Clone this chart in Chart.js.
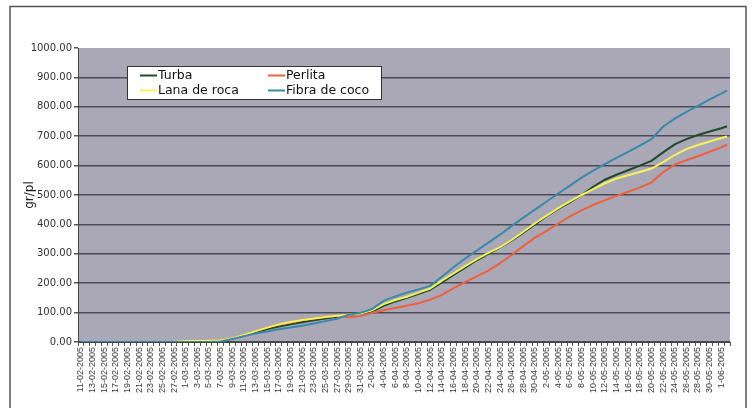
<!DOCTYPE html>
<html>
<head>
<meta charset="utf-8">
<script src="https://cdn.jsdelivr.net/npm/chart.js@4/dist/chart.umd.min.js"></script>
<style>
  html, body { margin: 0; padding: 0; background: #ffffff; }
  #wrap { position: relative; width: 754px; height: 408px; }
</style>
</head>
<body>
<div id="wrap"><canvas id="c" width="754" height="408"></canvas></div>
<script>
// Sampling dates (every second day, plus the final reading)
const sampleDates = [
  '11-02-2005','13-02-2005','15-02-2005','17-02-2005','19-02-2005','21-02-2005','23-02-2005','25-02-2005','27-02-2005',
  '1-03-2005','3-03-2005','5-03-2005','7-03-2005','9-03-2005','11-03-2005','13-03-2005','15-03-2005','17-03-2005',
  '19-03-2005','21-03-2005','23-03-2005','25-03-2005','27-03-2005','29-03-2005','31-03-2005',
  '2-04-2005','4-04-2005','6-04-2005','8-04-2005','10-04-2005','12-04-2005','14-04-2005','16-04-2005','18-04-2005',
  '20-04-2005','22-04-2005','24-04-2005','26-04-2005','28-04-2005','30-04-2005',
  '2-05-2005','4-05-2005','6-05-2005','8-05-2005','10-05-2005','12-05-2005','14-05-2005','16-05-2005','18-05-2005',
  '20-05-2005','22-05-2005','24-05-2005','26-05-2005','28-05-2005','30-05-2005','1-06-2005','2-06-2005'
];

// Accumulated values, gr/pl
const turba = [
  0,0,0,0,0,0,0,0,0,
  0,0,1,4,12,22,33,44,53,
  60,67,74,80,86,92,97,
  104,123,138,150,164,177,203,228,253,
  278,300,322,345,372,400,
  428,453,475,500,528,552,569,584,600,
  616,645,672,690,704,716,727,734
];
const perlita = [
  0,0,0,0,0,0,0,0,1,
  3,4,4,6,13,23,37,49,59,
  67,75,80,85,89,84,88,
  99,108,116,123,132,144,160,183,204,
  223,243,268,296,326,355,
  378,403,427,448,466,482,497,511,525,
  543,577,603,618,632,647,662,671
];
const lanaDeRoca = [
  0,0,0,0,0,0,0,0,1,
  3,4,4,6,13,24,37,49,60,
  68,75,80,85,89,93,97,
  108,129,143,154,168,182,209,233,258,
  282,303,323,347,375,404,
  430,455,478,500,520,540,556,567,578,
  590,612,636,656,670,682,694,699
];
const fibraDeCoco = [
  0,0,0,0,0,0,0,0,0,
  0,0,0,2,10,20,29,36,43,
  49,55,63,71,79,93,99,
  112,140,155,168,179,191,222,254,284,
  311,338,365,395,423,450,
  478,505,532,559,583,605,626,647,668,
  690,732,760,783,803,825,845,856
];

const seriesNames = ['Turba', 'Perlita', 'Lana de roca', 'Fibra de coco'];
const seriesColors = ['#1f4a2b', '#ee6040', '#f4f25a', '#3a88aa'];

// Daily category axis from 11-02-2005 to 2-06-2005
const days = [];
for (let i = 0; i < 112; i++) {
  const d = new Date(Date.UTC(2005, 1, 11 + i));
  days.push(d.getUTCDate() + '-' + String(d.getUTCMonth() + 1).padStart(2, '0') + '-' + d.getUTCFullYear());
}

const toPoints = vals => sampleDates.map((d, i) => ({ x: d, y: vals[i] }));

// Grey plot background and outer frame
const frame = {
  id: 'frame',
  beforeDraw(chart) {
    const { ctx, chartArea: a } = chart;
    ctx.save();
    ctx.fillStyle = '#aaa8b6';
    ctx.fillRect(a.left, a.top, a.right - a.left, a.bottom - a.top);
    ctx.strokeStyle = '#555555';
    ctx.lineWidth = 1.5;
    ctx.strokeRect(10, 6.5, 736, 410);
    ctx.restore();
  }
};

// Boxed two-column legend inside the plot
const boxLegend = {
  id: 'boxLegend',
  afterDatasetsDraw(chart) {
    const { ctx } = chart;
    const bx = 127.5, by = 66.5, bw = 254, bh = 33;
    ctx.save();
    ctx.fillStyle = '#ffffff';
    ctx.fillRect(bx, by, bw, bh);
    ctx.strokeStyle = '#333333';
    ctx.lineWidth = 1;
    ctx.strokeRect(bx, by, bw, bh);
    ctx.font = '12.5px "DejaVu Sans"';
    ctx.textBaseline = 'middle';
    ctx.fillStyle = '#111111';
    seriesNames.forEach((name, i) => {
      const col = i % 2, row = Math.floor(i / 2);
      const lx = col === 0 ? 140 : 268;
      const ly = row === 0 ? 75.5 : 90.5;
      ctx.strokeStyle = seriesColors[i];
      ctx.lineWidth = 2;
      ctx.beginPath();
      ctx.moveTo(lx, ly);
      ctx.lineTo(lx + 17, ly);
      ctx.stroke();
      ctx.fillText(name, lx + 18, ly);
    });
    ctx.restore();
  }
};

const allValues = [turba, perlita, lanaDeRoca, fibraDeCoco];

new Chart(document.getElementById('c'), {
  type: 'line',
  data: {
    labels: days,
    datasets: seriesNames.map((name, i) => ({
      label: name,
      data: toPoints(allValues[i]),
      borderColor: seriesColors[i],
      backgroundColor: seriesColors[i],
      borderWidth: 2,
      pointRadius: 0,
      tension: 0,
      fill: false,
      order: 4 - i
    }))
  },
  options: {
    responsive: false,
    animation: false,
    layout: { padding: { top: 48, right: 24, left: 0, bottom: 0 } },
    plugins: { legend: { display: false }, tooltip: { enabled: false } },
    scales: {
      x: {
        type: 'category',
        offset: true,
        grid: { offset: true, drawOnChartArea: false, drawTicks: true, tickLength: 4, color: '#555555' },
        border: { display: true, color: '#444444', width: 1 },
        ticks: {
          autoSkip: false,
          minRotation: 90,
          maxRotation: 90,
          padding: 1,
          color: '#3a3a3a',
          font: { family: 'Liberation Sans', size: 9 },
          callback(v, i) { return i % 2 === 0 ? this.getLabelForValue(v) : ''; }
        },
        afterFit(s) { s.height = 66; }
      },
      y: {
        min: 0,
        max: 1000,
        ticks: {
          stepSize: 100,
          padding: 2,
          color: '#333333',
          font: { family: 'DejaVu Sans', size: 10 },
          callback: v => Number(v).toFixed(2)
        },
        grid: {
          color: c => (c.tick && c.tick.value === 1000) ? 'rgba(0,0,0,0)' : '#4c4a55',
          lineWidth: 1.5,
          drawTicks: true,
          tickLength: 4,
          tickColor: '#555555'
        },
        border: { display: true, color: '#444444', width: 1 },
        title: {
          display: true,
          text: 'gr/pl',
          color: '#222222',
          font: { family: 'DejaVu Sans', size: 12 },
          padding: { top: 23, bottom: 0 }
        },
        afterFit(s) { s.width = 78; }
      }
    }
  },
  plugins: [frame, boxLegend]
});
</script>
</body>
</html>
